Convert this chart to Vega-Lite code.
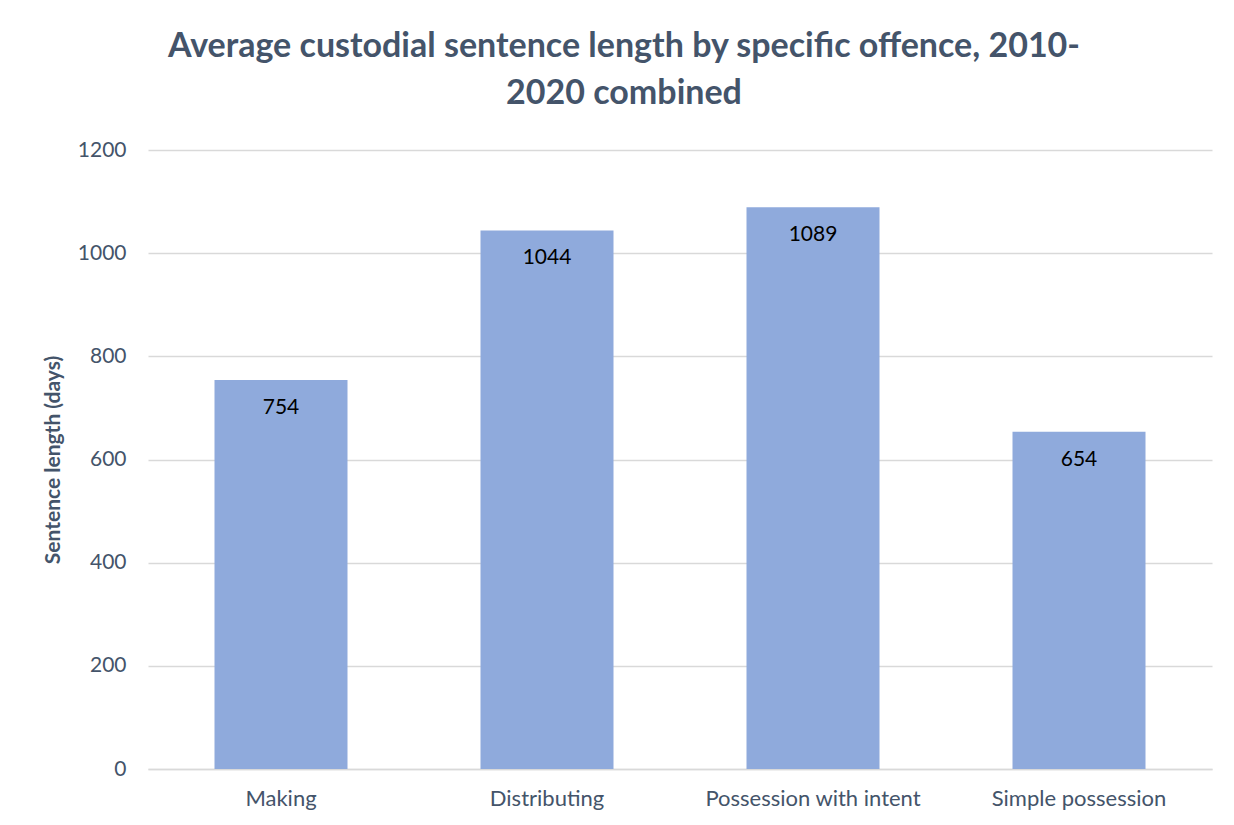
{
  "$schema": "https://vega.github.io/schema/vega-lite/v6.json",
  "autosize": {"type": "none"},
  "width": 1064,
  "height": 619,
  "padding": {"left": 148, "top": 150, "right": 22, "bottom": 56},
  "background": "white",
  "title": {
    "text": ["Average custodial sentence length by specific offence, 2010-", "2020 combined"],
    "font": "Lato",
    "fontSize": 34,
    "fontWeight": "bold",
    "color": "#44546A",
    "anchor": "middle",
    "dx": -56,
    "lineHeight": 47,
    "offset": 28
  },
  "data": {
    "values": [
      {"offence": "Making", "days": 754},
      {"offence": "Distributing", "days": 1044},
      {"offence": "Possession with intent", "days": 1089},
      {"offence": "Simple possession", "days": 654}
    ]
  },
  "encoding": {
    "x": {
      "field": "offence",
      "type": "nominal",
      "sort": null,
      "scale": {"paddingInner": 0.5, "paddingOuter": 0.25},
      "axis": {
        "title": null,
        "labelAngle": 0,
        "labelLimit": 0,
        "labelFont": "Lato",
        "labelFontSize": 22,
        "labelColor": "#44546A",
        "labelPadding": 19,
        "ticks": false,
        "domainColor": "#D9D9D9",
        "domainWidth": 1.5
      }
    },
    "y": {
      "field": "days",
      "type": "quantitative",
      "scale": {"domain": [0, 1200]},
      "axis": {
        "values": [0, 200, 400, 600, 800, 1000, 1200],
        "format": "d",
        "title": "Sentence length (days)",
        "titleFont": "Lato",
        "titleFontSize": 21,
        "titleFontWeight": "bold",
        "titleColor": "#44546A",
        "titlePadding": 14,
        "labelFont": "Lato",
        "labelFontSize": 21,
        "labelColor": "#44546A",
        "labelPadding": 22,
        "ticks": false,
        "domain": false,
        "gridColor": "#D9D9D9",
        "gridWidth": 1.5
      }
    }
  },
  "layer": [
    {"mark": {"type": "bar", "color": "#8FAADC"}},
    {
      "mark": {"type": "text", "baseline": "middle", "dy": 28, "font": "Lato", "fontSize": 21, "color": "#000000"},
      "encoding": {"text": {"field": "days", "type": "quantitative", "format": "d"}}
    }
  ],
  "config": {"view": {"stroke": null}}
}
